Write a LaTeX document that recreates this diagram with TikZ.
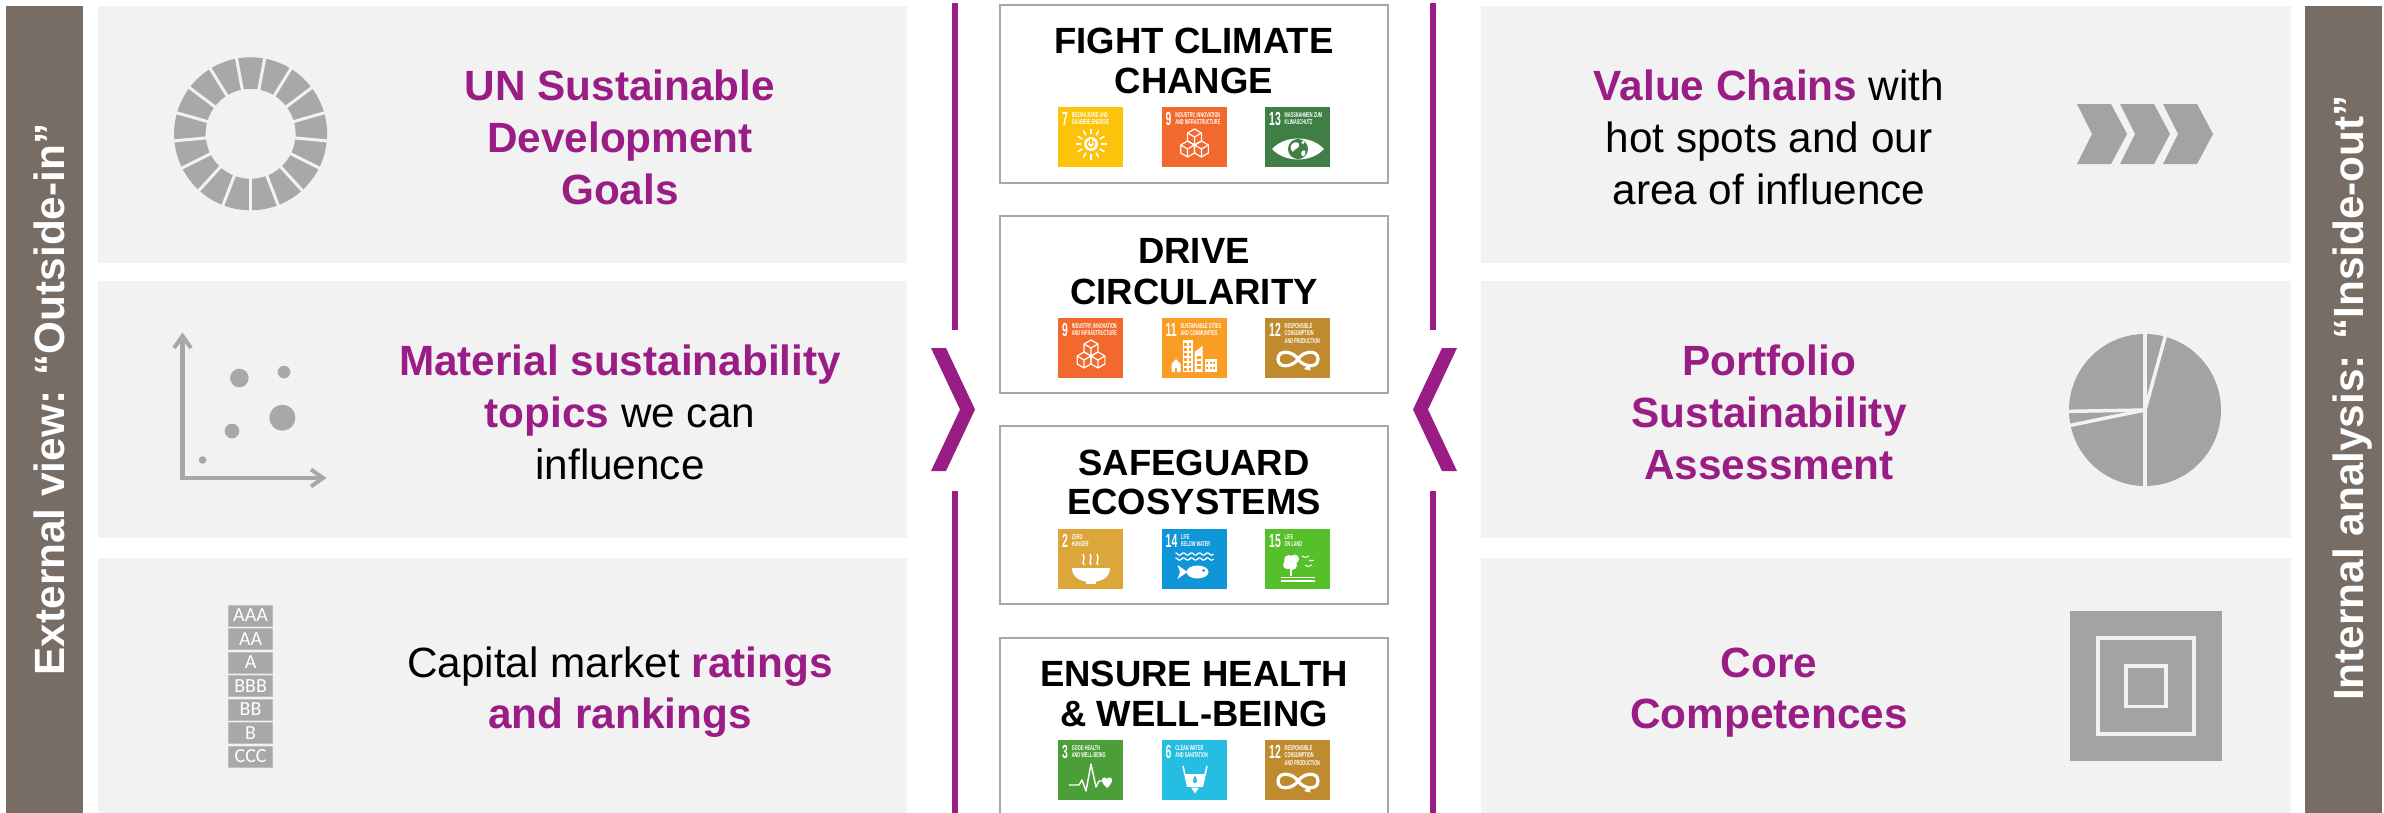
\documentclass[tikz,border=0pt]{standalone}
\usepackage{fontspec}
\setmainfont{Liberation Sans}
\newfontfamily\narrowfont{Liberation Sans}[FakeStretch=0.55]
\newfontfamily\ratefont{Carlito}
\definecolor{barbrown}{RGB}{120,109,101}
\definecolor{panelgray}{RGB}{242,242,242}
\definecolor{brandpurple}{RGB}{153,29,133}
\definecolor{icongray}{RGB}{168,168,168}
\definecolor{icongraytwo}{RGB}{163,163,163}
\definecolor{boxborder}{RGB}{170,166,162}
\definecolor{sdgtwo}{RGB}{221,166,58}
\definecolor{sdgthree}{RGB}{76,159,56}
\definecolor{sdgsix}{RGB}{38,189,226}
\definecolor{sdgseven}{RGB}{252,195,11}
\definecolor{sdgnine}{RGB}{243,105,45}
\definecolor{sdgeleven}{RGB}{250,157,36}
\definecolor{sdgtwelve}{RGB}{191,139,46}
\definecolor{sdgthirteen}{RGB}{63,126,68}
\definecolor{sdgfourteen}{RGB}{14,150,217}
\definecolor{sdgfifteen}{RGB}{86,192,43}
\tikzset{
  ptext/.style={anchor=base, inner sep=0pt, font=\fontsize{42.3}{51.7}\selectfont},
  btitle/.style={anchor=base, inner sep=0pt, font=\bfseries\fontsize{36.5}{40}\selectfont},
  bartext/.style={anchor=base, rotate=90, inner sep=0pt, text=white, font=\bfseries\fontsize{42.3}{50}\selectfont},
  sdgnum/.style={anchor=north west, inner sep=0pt, text=white, font=\narrowfont\bfseries\fontsize{19}{19}\selectfont},
  sdgtitle/.style={anchor=north west, inner sep=0pt, text=white, align=left, font=\narrowfont\bfseries\fontsize{7}{7.7}\selectfont},
  ratebox/.style={fill=icongray, draw=icongray!75!white, line width=1pt, minimum width=44pt, minimum height=21pt, inner sep=0pt, text=white, font=\ratefont\fontsize{20}{20}\selectfont},
  panel/.style={fill=panelgray},
  goalbox/.style={fill=white, draw=boxborder, line width=2.5pt},
}
\newcommand\hlp[1]{{\color{brandpurple}\bfseries #1}}
\newcommand\sdgtile[6]{%
\begin{scope}[shift={(#1,#2)}]
\fill[#3] (0,0) rectangle (65,60);
\node[sdgnum] (num#4) at (4,5) {#4};
\node[sdgtitle] (ttl#4) at ([xshift=3.5pt]num#4.north east) {#5};
#6
\end{scope}}
\begin{document}
\begin{tikzpicture}[x=1pt,y=-1pt]
\useasboundingbox (0,0) rectangle (2384,812);
\fill[white] (0,0) rectangle (2384,812);
% side bars
\fill[barbrown] (6,6) rectangle (83,815);
\fill[barbrown] (2305,6) rectangle (2382,815);
\node[bartext] (leftbar) at (64,399.5) {External view: “Outside-in”};
\node[bartext] (rightbar) at (2363,398) {Internal analysis: “Inside-out”};
% panels
\fill[panel] (98,6) rectangle (907,263);
\fill[panel] (98,281) rectangle (907,538);
\fill[panel] (98,558) rectangle (907,815);
\fill[panel] (1481,6) rectangle (2291,263);
\fill[panel] (1481,281) rectangle (2291,538);
\fill[panel] (1481,558) rectangle (2291,815);
% purple frame lines and chevrons
\draw[brandpurple, line width=6pt] (955,3) -- (955,330) (955,491) -- (955,815);
\draw[brandpurple, line width=6pt] (1433,3) -- (1433,330) (1433,491) -- (1433,815);
\fill[brandpurple] (931,348) -- (946,348) -- (975,409.5) -- (946,471) -- (931,471) -- (960,409.5) -- cycle;
\fill[brandpurple] (1457,348) -- (1442,348) -- (1413,409.5) -- (1442,471) -- (1457,471) -- (1428,409.5) -- cycle;
% ---- left panel 1: SDG wheel
\fill[icongray, even odd rule] (250.6,133.8) circle (76.5) (250.6,133.8) circle (45);
\foreach \k in {0,...,16} \draw[panelgray, line width=3pt] (250.6,133.8) ++(90+\k*21.1765:43) -- ++(90+\k*21.1765:36);
\node[ptext] (l1a) at (620,100) {\hlp{UN Sustainable}};
\node[ptext] (l1b) at (620,152) {\hlp{Development}};
\node[ptext] (l1c) at (620,204) {\hlp{Goals}};
% ---- left panel 2: scatter
\draw[icongray, line width=4.5pt] (182.5,480) -- (182.5,337) (180,478) -- (322,478);
\draw[icongray, line width=4pt] (174,348) -- (182.5,336) -- (191,348);
\draw[icongray, line width=4pt] (311,469.5) -- (323,478) -- (311,486.5);
\fill[icongray] (239.4,378) circle (9.3) (284,372) circle (6.3) (282.4,417.7) circle (13) (232,431) circle (7.3) (202.6,460) circle (3.8);
\node[ptext] (l2a) at (620,375) {\hlp{Material sustainability}};
\node[ptext] (l2b) at (620,427) {\hlp{topics} we can};
\node[ptext] (l2c) at (620,479) {influence};
% ---- left panel 3: ratings
\foreach \lab [count=\i from 0] in {AAA,AA,A,BBB,BB,B,CCC} \node[ratebox] (r\i) at (250.6,615.5+\i*23.5) {\lab};
\node[ptext] (l3a) at (620,677) {Capital market \hlp{ratings}};
\node[ptext] (l3b) at (620,728.5) {\hlp{and rankings}};
% ---- right panel 1: value chain
\foreach \x in {2077,2120,2163} \fill[icongraytwo] (\x,104) -- (\x+34,104) -- (\x+50,134) -- (\x+34,164) -- (\x,164) -- (\x+15,134) -- cycle;
\node[ptext] (r1a) at (1769,100) {\hlp{Value Chains} with};
\node[ptext] (r1b) at (1769,152) {hot spots and our};
\node[ptext] (r1c) at (1769,204) {area of influence};
% ---- right panel 2: pie
\fill[icongraytwo] (2145,410) circle (76);
\foreach \a in {-90,-74.6,90,168.4,179} \draw[panelgray, line width=3.5pt] (2145,410) -- ++(\a:78);
\node[ptext] (r2a) at (1769,375) {\hlp{Portfolio}};
\node[ptext] (r2b) at (1769,427) {\hlp{Sustainability}};
\node[ptext] (r2c) at (1769,479) {\hlp{Assessment}};
% ---- right panel 3: core square
\fill[icongraytwo] (2069.5,611) rectangle (2221.6,761);
\draw[panelgray, line width=4pt] (2098,638) rectangle (2193.5,733.5);
\draw[panelgray, line width=3.5pt] (2126,666) rectangle (2166,706.5);
\node[ptext] (r3a) at (1769,677) {\hlp{Core}};
\node[ptext] (r3b) at (1769,728.5) {\hlp{Competences}};
% ---- centre goal boxes
\draw[goalbox] (1000,5) rectangle (1388,183);
\draw[goalbox] (1000,216) rectangle (1388,393);
\draw[goalbox] (1000,426) rectangle (1388,604);
\draw[goalbox] (1000,638) rectangle (1388,830);
\node[btitle] (g1a) at (1194,53) {FIGHT CLIMATE};
\node[btitle] (g1b) at (1194,93) {CHANGE};
\node[btitle] (g2a) at (1194,263) {DRIVE};
\node[btitle] (g2b) at (1194,304) {CIRCULARITY};
\node[btitle] (g3a) at (1194,475) {SAFEGUARD};
\node[btitle] (g3b) at (1194,514) {ECOSYSTEMS};
\node[btitle] (g4a) at (1194,686) {ENSURE HEALTH};
\node[btitle] (g4b) at (1194,726) {\& WELL-BEING};
% ---- SDG tiles
% row 1
\sdgtile{1058}{107}{sdgseven}{7}{BEZAHLBARE UND\\SAUBERE ENERGIE}{%
\fill[white] (33,37) circle (7);
\draw[sdgseven, line width=1.4pt] (33,37) ++(-60:3.6) arc[start angle=-60, end angle=240, radius=3.6];
\draw[sdgseven, line width=1.4pt] (33,37) -- (33,32.3);
\foreach \a in {0,30,...,330} \draw[white, line width=1.5pt] (33,37) ++(\a:10) -- ++(\a:5.5);}
\sdgtile{1161.5}{107}{sdgnine}{9}{INDUSTRY, INNOVATION\\AND INFRASTRUCTURE}{%
\foreach \cx/\cy in {26.07/42, 39.93/42, 33/30} \draw[white, line width=1.2pt, line join=round] (\cx,\cy-8) -- (\cx+6.93,\cy-4) -- (\cx+6.93,\cy+4) -- (\cx,\cy+8) -- (\cx-6.93,\cy+4) -- (\cx-6.93,\cy-4) -- cycle (\cx,\cy) -- (\cx,\cy+8) (\cx,\cy) -- (\cx+6.93,\cy-4) (\cx,\cy) -- (\cx-6.93,\cy-4);}
\sdgtile{1265}{107}{sdgthirteen}{13}{MASSNAHMEN ZUM\\KLIMASCHUTZ}{%
\fill[white] (7,42) .. controls (20,28) and (46,28) .. (59,42) .. controls (46,56) and (20,56) .. (7,42) -- cycle;
\fill[sdgthirteen] (33,42) circle (10);
\fill[white] (27,37) .. controls (30,34) and (35,35) .. (34,39) .. controls (33,42) and (29,42) .. (28,45) .. controls (25,43) and (25,39) .. (27,37) -- cycle;
\fill[white] (37,44) .. controls (40,42) and (42,45) .. (39,49) .. controls (37,50) and (35,47) .. (37,44) -- cycle;
\fill[white] (38,35.5) circle (1.6);}
% row 2
\sdgtile{1058}{318}{sdgnine}{9}{INDUSTRY, INNOVATION\\AND INFRASTRUCTURE}{%
\foreach \cx/\cy in {26.07/42, 39.93/42, 33/30} \draw[white, line width=1.2pt, line join=round] (\cx,\cy-8) -- (\cx+6.93,\cy-4) -- (\cx+6.93,\cy+4) -- (\cx,\cy+8) -- (\cx-6.93,\cy+4) -- (\cx-6.93,\cy-4) -- cycle (\cx,\cy) -- (\cx,\cy+8) (\cx,\cy) -- (\cx+6.93,\cy-4) (\cx,\cy) -- (\cx-6.93,\cy-4);}
\sdgtile{1161.5}{318}{sdgeleven}{11}{SUSTAINABLE CITIES\\AND COMMUNITIES}{%
\fill[white] (10,46) -- (14.5,41) -- (19,46) -- (19,54) -- (10,54) -- cycle;
\fill[sdgeleven] (13.5,50) rectangle (15.5,54);
\fill[white] (21,22) rectangle (31,54);
\fill[white] (33,54) -- (33,34) -- (41,28) -- (41,54) -- cycle;
\fill[white] (43,41) rectangle (55,54);
\foreach \wy in {25,30,...,50} {\fill[sdgeleven] (22.5,\wy) rectangle ++(2.5,2.5); \fill[sdgeleven] (27,\wy) rectangle ++(2.5,2.5);}
\foreach \wy in {38,43,48} \fill[sdgeleven] (35,\wy) rectangle ++(4,2.5);
\foreach \wx in {45,48.5,52} {\fill[sdgeleven] (\wx-0.5,44) rectangle ++(2.3,2.3); \fill[sdgeleven] (\wx-0.5,48.5) rectangle ++(2.3,2.3);}}
\sdgtile{1265}{318}{sdgtwelve}{12}{RESPONSIBLE\\CONSUMPTION\\AND PRODUCTION}{%
\draw[white, line width=3.2pt] (33,41) .. controls (38,33) and (53,31) .. (53,41) .. controls (53,51) and (38,49) .. (33,41) .. controls (28,33) and (13,31) .. (13,41) .. controls (13,51) and (28,49) .. (33,41);
\fill[white] (39,51) -- (44.5,46) -- (45.5,52.5) -- cycle;}
% row 3
\sdgtile{1058}{529}{sdgtwo}{2}{ZERO\\HUNGER}{%
\foreach \sx in {26,33,40} \draw[white, line width=1.4pt] (\sx,36) .. controls (\sx-3,33) and (\sx+2,30) .. (\sx-1,25);
\fill[white] (14,39) -- (52,39) .. controls (52,48) and (44,53) .. (33,53) .. controls (22,53) and (14,48) .. (14,39) -- cycle;
\fill[white] (28,52) rectangle (38,55);}
\sdgtile{1161.5}{529}{sdgfourteen}{14}{LIFE\\BELOW WATER}{%
\draw[white, line width=1.3pt] plot[domain=14:52, samples=40] (\x,{25+1.1*sin(\x*45)});
\draw[white, line width=1.3pt] plot[domain=14:52, samples=40] (\x,{30+1.1*sin(\x*45)});
\fill[white] (36,43) ellipse [x radius=11, y radius=6.5];
\fill[white] (26,43) -- (16,36) -- (18.5,43) -- (16,50) -- cycle;
\fill[sdgfourteen] (42,41.5) circle (1.5);}
\sdgtile{1265}{529}{sdgfifteen}{15}{LIFE\\ON LAND}{%
\fill[white] (24,31) circle (5) (29.5,30) circle (4.5) (27,36) circle (5) (22,36) circle (4);
\draw[white, line width=1.6pt] (26,38) -- (26,47);
\draw[white, line width=0.9pt] (37,27) -- (40,28.5) -- (44,27) (40,36) -- (43,37.5) -- (47,36) (44,31) -- (46,32) -- (49,31);
\draw[white, line width=1.6pt] (16,48.5) -- (50,48.5) (16,52) -- (50,52);}
% row 4
\sdgtile{1058}{740}{sdgthree}{3}{GOOD HEALTH\\AND WELL-BEING}{%
\draw[white, line width=1.4pt, line join=round] (11,45) -- (21,45) -- (24,40) -- (28,51) -- (33,24) -- (38,47) -- (41,41) -- (44,41);
\fill[white] (49,48) .. controls (44,44) and (42.5,39) .. (45.5,37.5) .. controls (47.5,36.7) and (49,38.3) .. (49,39.5) .. controls (49,38.3) and (50.5,36.7) .. (52.5,37.5) .. controls (55.5,39) and (54,44) .. (49,48) -- cycle;}
\sdgtile{1161.5}{740}{sdgsix}{6}{CLEAN WATER\\AND SANITATION}{%
\draw[white, line width=1.5pt] (21.5,26) -- (26,46) -- (41,46) -- (45.5,26);
\fill[white] (23.3,34) -- (26,46) -- (41,46) -- (43.7,34) -- cycle;
\fill[sdgsix] (33.5,35.5) .. controls (31,39.5) and (30.8,43) .. (33.5,43) .. controls (36.2,43) and (36,39.5) .. (33.5,35.5) -- cycle;
\fill[white] (29.5,47.5) -- (37.5,47.5) -- (33.5,53.5) -- cycle;}
\sdgtile{1265}{740}{sdgtwelve}{12}{RESPONSIBLE\\CONSUMPTION\\AND PRODUCTION}{%
\draw[white, line width=3.2pt] (33,41) .. controls (38,33) and (53,31) .. (53,41) .. controls (53,51) and (38,49) .. (33,41) .. controls (28,33) and (13,31) .. (13,41) .. controls (13,51) and (28,49) .. (33,41);
\fill[white] (39,51) -- (44.5,46) -- (45.5,52.5) -- cycle;}
\end{tikzpicture}
\end{document}
